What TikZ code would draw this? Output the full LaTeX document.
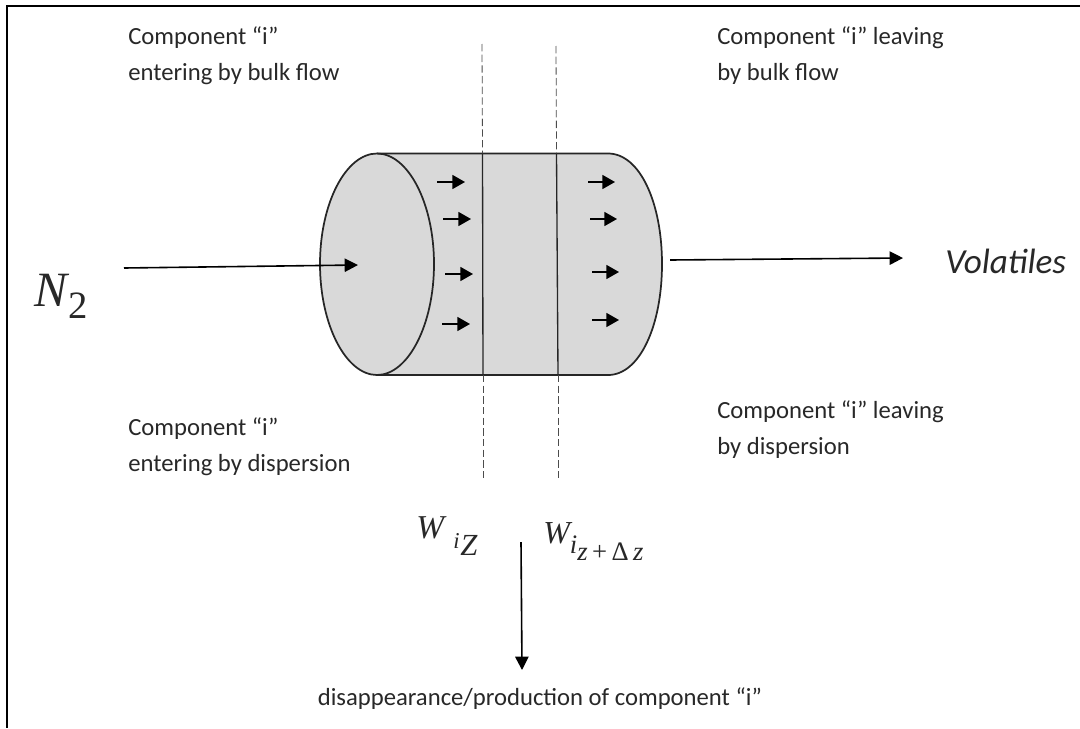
\documentclass[tikz,border=0pt]{standalone}
\usepackage{fontspec}
\setmainfont{Carlito}
\newfontfamily\wfont{Liberation Serif}
\usetikzlibrary{arrows.meta}
\definecolor{cylfill}{RGB}{217,217,217}
\definecolor{ink}{RGB}{40,40,40}
\tikzset{
  x=0.75pt,y=-0.75pt,
  label/.style={inner sep=0pt,anchor=west,align=left,text=ink,font=\fontsize{18.5}{27}\selectfont},
  flow/.style={line width=1.2pt,black,-{Triangle[length=10pt,width=10pt]}},
  small/.style={line width=1.2pt,black,-{Triangle[length=9.5pt,width=10.5pt]}},
  wall/.style={line width=1pt,black!85},
  guide/.style={line width=0.6pt,black!70,dash pattern=on 5.5pt off 2.5pt},
  math/.style={inner sep=0pt,anchor=base west,text=ink}
}
\begin{document}
\begin{tikzpicture}
\useasboundingbox (0,0) rectangle (1080,728);
\fill[white] (0,0) rectangle (1080,728);
\draw[line width=1.2pt,black] (1080,6) -- (7,6) -- (7,728);
\coordinate (tl) at (377,153.5);
\coordinate (tr) at (608,153.5);
\coordinate (bl) at (377,375);
\coordinate (br) at (608,375);
% cylinder body
\draw[line width=1.3pt,black!85,fill=cylfill] (tl) -- (tr)
   .. controls (640,153.5) and (662,203) .. (662,264)
   .. controls (662,325) and (640,375) .. (br) -- (bl)
   .. controls (346,375) and (320,325) .. (320,264)
   .. controls (320,203) and (346,153.5) .. (tl) -- cycle;
% front face
\draw[line width=1.3pt,black!85] (tl)
   .. controls (408,153.5) and (434,203) .. (434,264)
   .. controls (434,325) and (408,375) .. (bl);
% dashed guides
\coordinate (g1t) at (482,44); \coordinate (g1a) at (482.5,153.5);
\coordinate (g1b) at (483,375); \coordinate (g1e) at (483,478);
\coordinate (g2t) at (556,46); \coordinate (g2a) at (556.5,153.5);
\coordinate (g2b) at (558,375); \coordinate (g2e) at (558,478);
\draw[guide] (g1t) -- (g1a);
\draw[guide] (g1b) -- (g1e);
\draw[guide] (g2t) -- (g2a);
\draw[guide] (g2b) -- (g2e);
\draw[wall] (g1a) -- (g1b);
\draw[wall] (g2a) -- (g2b);
% small arrows
\foreach \n/\xa/\xb/\yy in {a/437/465/182,b/443/471/219,c/445/473/274,d/442/470/324,
   e/588/615/182,f/590/617/219,g/592/619/272,h/592/619/320}{
  \coordinate (\n1) at (\xa,\yy); \coordinate (\n2) at (\xb,\yy);
  \draw[small] (\n1) -- (\n2);
}
% main arrows
\coordinate (n2s) at (124,268); \coordinate (n2e) at (358,265);
\draw[flow] (n2s) -- (n2e);
\coordinate (vs) at (670,260); \coordinate (ve) at (903,258);
\draw[flow] (vs) -- (ve);
\coordinate (ds) at (521,542); \coordinate (de) at (522,670);
\draw[flow] (ds) -- (de);
% labels
\node[label] (t1) at (128,56) {Component “i”\\entering by bulk flow};
\node[label] (t2) at (717,56) {Component “i” leaving\\by bulk flow};
\node[label] (t3) at (128,447) {Component “i”\\entering by dispersion};
\node[label] (t4) at (717,430) {Component “i” leaving\\by dispersion};
\node[label,anchor=center] (t5) at (540,699) {disappearance/production of component “i”};
\node[inner sep=0pt,anchor=base west,text=ink,font=\fontsize{26.4}{28}\selectfont\itshape] (vol) at (945,273) {Volat{}iles};
\node[math,font=\fontsize{37}{40}\selectfont\wfont\itshape] (n2) at (34,306) {N};
\node[math,font=\fontsize{29}{32}\selectfont\wfont] (n2sub) at (68,318) {2};
\node[math,font=\fontsize{25}{28}\selectfont\wfont\itshape] (w1) at (416,538) {W};
\node[math,font=\fontsize{17}{20}\selectfont\wfont\itshape] (w1s) at (453,548) {i};
\node[math,font=\fontsize{23}{26}\selectfont\wfont\itshape] (w1z) at (460,555) {Z};
\node[math,font=\fontsize{24}{28}\selectfont\wfont\itshape] (w2) at (543,543) {W};
\node[math,font=\fontsize{20}{24}\selectfont\wfont\itshape] (w2s) at (569.5,553) {i};
\node[math,font=\fontsize{20}{24}\selectfont\wfont\itshape] (w2z) at (577,560) {z\,{\upshape +\,Δ}\,z};
\end{tikzpicture}
\end{document}
